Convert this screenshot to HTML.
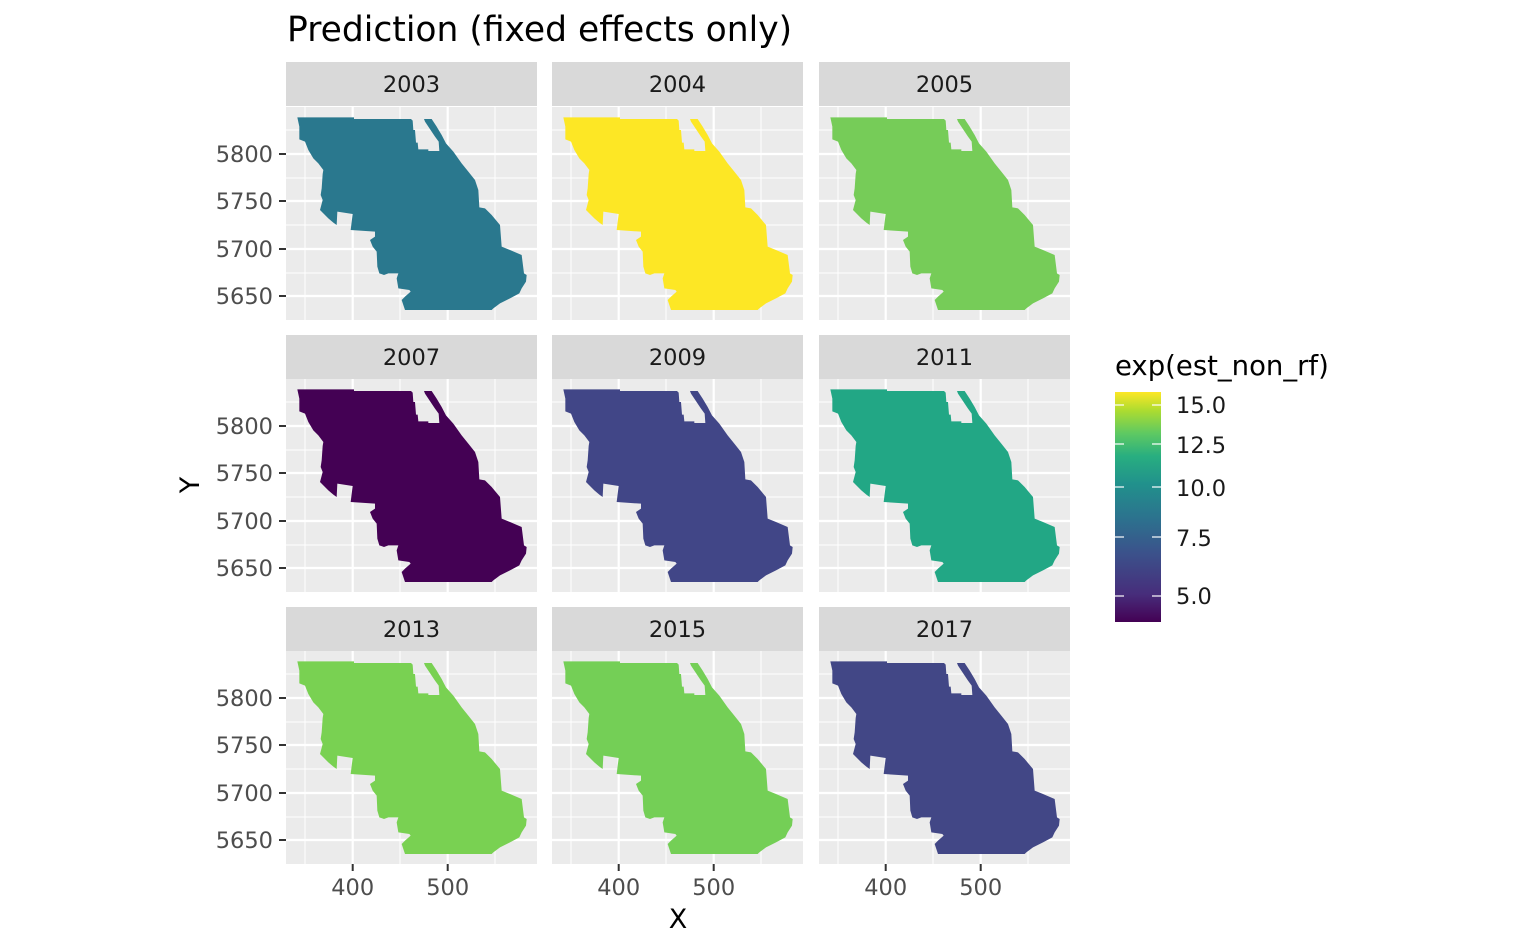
<!DOCTYPE html>
<html><head><meta charset="utf-8"><style>
html,body{margin:0;padding:0;background:#fff;}
svg{display:block;font-family:"DejaVu Sans","Liberation Sans",sans-serif;}
</style></head><body>
<svg width="1536" height="949" viewBox="0 0 1536 949" xmlns="http://www.w3.org/2000/svg">
<defs>
<g id="bg">
<rect x="0" y="0" width="251" height="213" fill="#ebebeb"/>
<g stroke="#fff" stroke-width="1">
<line x1="19" y1="0" x2="19" y2="213"/><line x1="114" y1="0" x2="114" y2="213"/><line x1="209" y1="0" x2="209" y2="213"/>
<line x1="0" y1="23" x2="251" y2="23"/><line x1="0" y1="71" x2="251" y2="71"/><line x1="0" y1="118" x2="251" y2="118"/><line x1="0" y1="166" x2="251" y2="166"/>
</g>
<g stroke="#fff" stroke-width="2.2">
<line x1="66.7" y1="0" x2="66.7" y2="213"/><line x1="161.7" y1="0" x2="161.7" y2="213"/>
<line x1="0" y1="47" x2="251" y2="47"/><line x1="0" y1="94" x2="251" y2="94"/><line x1="0" y1="142" x2="251" y2="142"/><line x1="0" y1="189" x2="251" y2="189"/>
</g>
</g>
<path id="s" transform="translate(-6,-7) scale(0.33333)" d="M52,52 L222,52 L222,57 L393,57 L398,62 L400,90 L405,90 L408,128 L413,128 L415,148 L445,148 L445,153 L478,153 L476,125 L465,110 L455,95 L445,80 L435,65 L432,57 L455,57 L470,80 L485,105 L498,130 L520,155 L545,190 L565,215 L585,240 L595,270 L598,322 L615,325 L635,345 L660,375 L665,440 L690,450 L725,465 L732,520 L740,525 L738,545 L725,565 L718,580 L690,595 L660,610 L640,625 L635,630 L375,630 L365,600 L375,590 L392,575 L388,570 L355,565 L350,535 L355,520 L325,520 L312,525 L298,520 L292,500 L290,455 L278,440 L270,420 L285,410 L285,395 L212,390 L218,342 L172,335 L170,375 L160,368 L145,355 L120,330 L128,300 L122,285 L125,265 L128,222 L130,210 L115,190 L100,175 L85,150 L75,125 L58,118 L58,80 Z"/>
<linearGradient id="vg" x1="0" y1="1" x2="0" y2="0">
<stop offset="0" stop-color="#440154"/>
<stop offset="0.12" stop-color="#472d7b"/>
<stop offset="0.3" stop-color="#3b528b"/>
<stop offset="0.45" stop-color="#2c728e"/>
<stop offset="0.6" stop-color="#21918c"/>
<stop offset="0.72" stop-color="#28ae80"/>
<stop offset="0.82" stop-color="#5ec962"/>
<stop offset="0.92" stop-color="#addc30"/>
<stop offset="1" stop-color="#fde725"/>
</linearGradient>
</defs>

<text x="287" y="41" font-size="34.5" fill="#000">Prediction (fixed effects only)</text>

<g>
<rect x="286" y="62" width="251" height="44" fill="#d9d9d9"/><text x="411.5" y="92" font-size="22.5" fill="#1a1a1a" text-anchor="middle">2003</text>
<rect x="552" y="62" width="251" height="44" fill="#d9d9d9"/><text x="677.5" y="92" font-size="22.5" fill="#1a1a1a" text-anchor="middle">2004</text>
<rect x="819" y="62" width="251" height="44" fill="#d9d9d9"/><text x="944.5" y="92" font-size="22.5" fill="#1a1a1a" text-anchor="middle">2005</text>
<rect x="286" y="335" width="251" height="44" fill="#d9d9d9"/><text x="411.5" y="365" font-size="22.5" fill="#1a1a1a" text-anchor="middle">2007</text>
<rect x="552" y="335" width="251" height="44" fill="#d9d9d9"/><text x="677.5" y="365" font-size="22.5" fill="#1a1a1a" text-anchor="middle">2009</text>
<rect x="819" y="335" width="251" height="44" fill="#d9d9d9"/><text x="944.5" y="365" font-size="22.5" fill="#1a1a1a" text-anchor="middle">2011</text>
<rect x="286" y="607" width="251" height="44" fill="#d9d9d9"/><text x="411.5" y="637" font-size="22.5" fill="#1a1a1a" text-anchor="middle">2013</text>
<rect x="552" y="607" width="251" height="44" fill="#d9d9d9"/><text x="677.5" y="637" font-size="22.5" fill="#1a1a1a" text-anchor="middle">2015</text>
<rect x="819" y="607" width="251" height="44" fill="#d9d9d9"/><text x="944.5" y="637" font-size="22.5" fill="#1a1a1a" text-anchor="middle">2017</text>

<g transform="translate(286,107)"><use href="#bg"/><use href="#s" fill="#2a788e"/></g>
<g transform="translate(552,107)"><use href="#bg"/><use href="#s" fill="#fde725"/></g>
<g transform="translate(819,107)"><use href="#bg"/><use href="#s" fill="#76cc58"/></g>
<g transform="translate(286,379)"><use href="#bg"/><use href="#s" fill="#440154"/></g>
<g transform="translate(552,379)"><use href="#bg"/><use href="#s" fill="#414687"/></g>
<g transform="translate(819,379)"><use href="#bg"/><use href="#s" fill="#22a785"/></g>
<g transform="translate(286,651)"><use href="#bg"/><use href="#s" fill="#79d152"/></g>
<g transform="translate(552,651)"><use href="#bg"/><use href="#s" fill="#74cf56"/></g>
<g transform="translate(819,651)"><use href="#bg"/><use href="#s" fill="#424786"/></g>
</g>

<g stroke="#333" stroke-width="2">
<line x1="279" y1="154" x2="286" y2="154"/><line x1="279" y1="201" x2="286" y2="201"/><line x1="279" y1="249" x2="286" y2="249"/><line x1="279" y1="296" x2="286" y2="296"/>
<line x1="279" y1="426" x2="286" y2="426"/><line x1="279" y1="473" x2="286" y2="473"/><line x1="279" y1="521" x2="286" y2="521"/><line x1="279" y1="568" x2="286" y2="568"/>
<line x1="279" y1="698" x2="286" y2="698"/><line x1="279" y1="745" x2="286" y2="745"/><line x1="279" y1="793" x2="286" y2="793"/><line x1="279" y1="840" x2="286" y2="840"/>
<line x1="352.7" y1="864" x2="352.7" y2="871"/><line x1="447.7" y1="864" x2="447.7" y2="871"/>
<line x1="618.7" y1="864" x2="618.7" y2="871"/><line x1="713.7" y1="864" x2="713.7" y2="871"/>
<line x1="885.7" y1="864" x2="885.7" y2="871"/><line x1="980.7" y1="864" x2="980.7" y2="871"/>
</g>
<g font-size="22.5" fill="#4d4d4d" text-anchor="end">
<text x="273" y="162">5800</text><text x="273" y="209">5750</text><text x="273" y="257">5700</text><text x="273" y="304">5650</text>
<text x="273" y="434">5800</text><text x="273" y="481">5750</text><text x="273" y="529">5700</text><text x="273" y="576">5650</text>
<text x="273" y="706">5800</text><text x="273" y="753">5750</text><text x="273" y="801">5700</text><text x="273" y="848">5650</text>
</g>
<g font-size="22.5" fill="#4d4d4d" text-anchor="middle">
<text x="352.7" y="895">400</text><text x="447.7" y="895">500</text>
<text x="618.7" y="895">400</text><text x="713.7" y="895">500</text>
<text x="885.7" y="895">400</text><text x="980.7" y="895">500</text>
</g>
<text x="678" y="928" font-size="27" text-anchor="middle" fill="#000">X</text>
<text transform="translate(199,485) rotate(-90)" font-size="27" text-anchor="middle" fill="#000">Y</text>

<text x="1115" y="375" font-size="27.5" fill="#000">exp(est_non_rf)</text>
<rect x="1115" y="392" width="46" height="230" fill="url(#vg)"/>
<g stroke="#fff" stroke-width="1.2">
<line x1="1115" y1="405" x2="1124" y2="405"/><line x1="1152" y1="405" x2="1161" y2="405"/>
<line x1="1115" y1="444" x2="1124" y2="444"/><line x1="1152" y1="444" x2="1161" y2="444"/>
<line x1="1115" y1="487" x2="1124" y2="487"/><line x1="1152" y1="487" x2="1161" y2="487"/>
<line x1="1115" y1="537" x2="1124" y2="537"/><line x1="1152" y1="537" x2="1161" y2="537"/>
<line x1="1115" y1="596" x2="1124" y2="596"/><line x1="1152" y1="596" x2="1161" y2="596"/>
</g>
<g font-size="22.5" fill="#1a1a1a">
<text x="1176" y="413">15.0</text><text x="1176" y="453">12.5</text><text x="1176" y="496">10.0</text><text x="1176" y="546">7.5</text><text x="1176" y="604">5.0</text>
</g>
</svg>
</body></html>
